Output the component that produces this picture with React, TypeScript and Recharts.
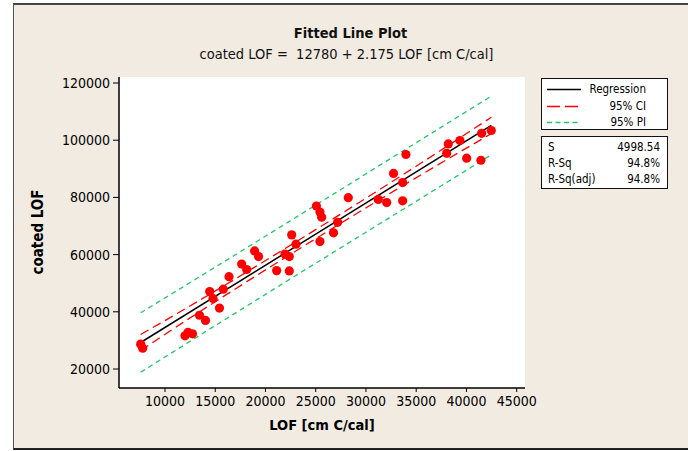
import React from 'react';
import { ComposedChart, Scatter, Line, XAxis, YAxis, CartesianGrid } from 'recharts';

// Observed LOF [cm C/cal] and coated LOF
const lofValues = [
  7580, 7780, 11990, 12290, 12740, 13430, 14030, 14450, 14780, 15420, 15800, 16370,
  17630, 18130, 18920, 19310, 21110, 21940, 22370, 22370, 22610, 23030, 25070, 25420,
  25590, 25420, 26770, 27180, 28240, 31220, 32060, 32740, 33650, 33650, 33980, 38030,
  38190, 39350, 40020, 41440, 41510, 42470,
];
const coatedLofValues = [
  28700, 27300, 31600, 32850, 32300, 38800, 37000, 47100, 44650, 41300, 47900, 52300,
  56700, 54800, 61300, 59300, 54400, 60200, 59300, 54300, 66900, 63650, 77000, 74900,
  73100, 64550, 67600, 71300, 79900, 79300, 78200, 88400, 85200, 78800, 95000, 95400,
  98700, 99900, 93700, 93000, 102400, 103400,
];

// Fitted equation: coated LOF = 12780 + 2.175 LOF
const intercept = 12780;
const slope = 2.175;
const fitRange = [7580, 42470];

// Confidence and prediction band limits
const bandLof = [7580, 12000, 17000, 22000, 27000, 32000, 37000, 42470];
const ciUpper = [32070, 41030, 51500, 62220, 73100, 84180, 95450, 108000];
const ciLower = [26470, 36730, 48000, 59040, 69900, 80580, 91050, 102300];
const piUpper = [39650, 49150, 59950, 70800, 81680, 92600, 103500, 115400];
const piLower = [18880, 28600, 39550, 50450, 61330, 72160, 83000, 94900];

const xTicks = [10000, 15000, 20000, 25000, 30000, 35000, 40000, 45000];
const yTicks = [20000, 40000, 60000, 80000, 100000, 120000];

const points = lofValues.map((x, i) => ({ x, y: coatedLofValues[i] }));
const fitLine = fitRange.map((x) => ({ x, y: intercept + slope * x }));
const band = (vals: number[]) => bandLof.map((x, i) => ({ x, y: vals[i] }));

const FONT = '"DejaVu Sans Condensed", "DejaVu Sans", Tahoma, sans-serif';
const RED = '#ff0000';
const GREEN = '#22c865';

const stats = [
  ['S', '4998.54'],
  ['R-Sq', '94.8%'],
  ['R-Sq(adj)', '94.8%'],
];

const legendItems = [
  { label: 'Regression', color: '#000', dash: undefined as string | undefined },
  { label: '95% CI', color: RED, dash: '13 5' },
  { label: '95% PI', color: GREEN, dash: '5 3.5' },
];

export default function App() {
  return (
    <div style={{ position: 'absolute', left: 0, top: 0, width: 688, height: 451, background: '#fff', overflow: 'hidden', fontFamily: FONT }}>
      <div style={{ position: 'absolute', left: 13, top: 3, width: 700, height: 447, boxSizing: 'border-box', background: '#f1ebe2', borderLeft: '1.5px solid #555', borderTop: '2px solid #444', borderBottom: '2px solid #222' }} />
      <div style={{ position: 'absolute', left: 13, width: 675, top: 25, textAlign: 'center', fontWeight: 'bold', fontSize: 14.5, color: '#111' }}>Fitted Line Plot</div>
      <div style={{ position: 'absolute', left: 13, width: 667, top: 46, textAlign: 'center', fontSize: 14.5, color: '#111' }}>coated LOF =&nbsp; 12780 + 2.175 LOF [cm C/cal]</div>

      <div style={{ position: 'absolute', left: 0, top: 0 }}>
        <ComposedChart width={688} height={451} margin={{ top: 77, right: 163, bottom: 33, left: 0 }}>
          <CartesianGrid horizontal={false} vertical={false} fill="#fff" />
          <XAxis
            type="number"
            dataKey="x"
            domain={[5423, 45826]}
            ticks={xTicks}
            allowDataOverflow
            height={30}
            tickSize={4}
            tickMargin={4}
            axisLine={{ stroke: '#000', strokeWidth: 1.5 }}
            tickLine={{ stroke: '#000' }}
            tick={{ fill: '#000', fontSize: 14, fontFamily: FONT }}
          />
          <XAxis xAxisId="frame" orientation="top" type="number" domain={[0, 1]} height={0} tick={false} tickLine={false} axisLine={{ stroke: '#222', strokeWidth: 1.5 }} />
          <YAxis
            type="number"
            dataKey="y"
            domain={[13360, 122100]}
            ticks={yTicks}
            allowDataOverflow
            width={119}
            tickSize={6}
            tickMargin={3}
            axisLine={{ stroke: '#000', strokeWidth: 1.5 }}
            tickLine={{ stroke: '#000' }}
            tick={{ fill: '#000', fontSize: 14, fontFamily: FONT }}
          />
          <YAxis yAxisId="frame" orientation="right" type="number" domain={[0, 1]} width={0} tick={false} tickLine={false} axisLine={{ stroke: '#222', strokeWidth: 1.5 }} />
          <Line data={band(piUpper)} dataKey="y" type="monotone" stroke={GREEN} strokeWidth={1.3} strokeDasharray="5 4" dot={false} isAnimationActive={false} />
          <Line data={band(piLower)} dataKey="y" type="monotone" stroke={GREEN} strokeWidth={1.3} strokeDasharray="5 4" dot={false} isAnimationActive={false} />
          <Line data={band(ciUpper)} dataKey="y" type="monotone" stroke={RED} strokeWidth={1.3} strokeDasharray="9 5" dot={false} isAnimationActive={false} />
          <Line data={band(ciLower)} dataKey="y" type="monotone" stroke={RED} strokeWidth={1.3} strokeDasharray="9 5" dot={false} isAnimationActive={false} />
          <Line data={fitLine} dataKey="y" type="linear" stroke="#000" strokeWidth={1.5} dot={false} isAnimationActive={false} />
          <Scatter
            data={points}
            dataKey="y"
            isAnimationActive={false}
            shape={(p: any) => <circle cx={p.cx} cy={p.cy} r={4.6} fill={RED} />}
          />
        </ComposedChart>
      </div>

      <div style={{ position: 'absolute', left: 38, top: 232, transform: 'translate(-50%, -50%) rotate(-90deg)', fontWeight: 'bold', fontSize: 15, whiteSpace: 'nowrap', color: '#000' }}>coated LOF</div>
      <div style={{ position: 'absolute', left: 322, top: 425, transform: 'translate(-50%, -50%)', fontWeight: 'bold', fontSize: 14.5, whiteSpace: 'nowrap', color: '#000' }}>LOF [cm C/cal]</div>

      <div style={{ position: 'absolute', left: 541, top: 78, width: 127, height: 52, boxSizing: 'border-box', border: '1.5px solid #111', background: '#fff' }}>
        {legendItems.map((it, i) => (
          <div key={it.label} style={{ position: 'absolute', left: 0, top: 3 + i * 16.5, width: 124, height: 16 }}>
            <svg width={36} height={16} style={{ position: 'absolute', left: 5, top: 0 }}>
              <line x1={0} y1={7.5} x2={34} y2={7.5} stroke={it.color} strokeWidth={1.3} strokeDasharray={it.dash} />
            </svg>
            <div style={{ position: 'absolute', right: 20, top: 0, fontSize: 11.5, lineHeight: '15px', color: '#000' }}>{it.label}</div>
          </div>
        ))}
      </div>

      <div style={{ position: 'absolute', left: 541, top: 136, width: 127, height: 53, boxSizing: 'border-box', border: '1.5px solid #111', background: '#fff' }}>
        {stats.map(([k, v], i) => (
          <div key={k} style={{ position: 'absolute', left: 6, top: 3 + i * 16, width: 112, height: 16, fontSize: 11.5, lineHeight: '15px', color: '#000' }}>
            <span style={{ position: 'absolute', left: 0 }}>{k}</span>
            <span style={{ position: 'absolute', right: 0 }}>{v}</span>
          </div>
        ))}
      </div>
    </div>
  );
}
